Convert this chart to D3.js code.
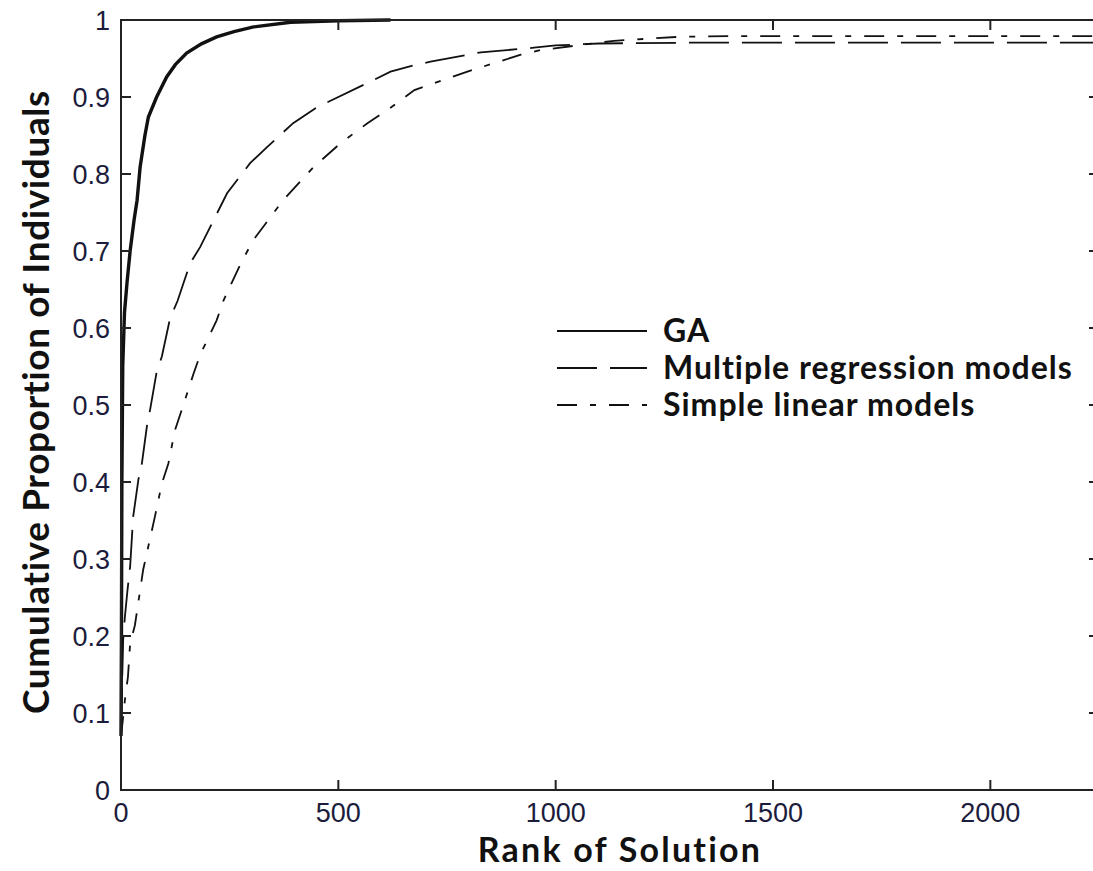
<!DOCTYPE html>
<html lang="en">
<head>
<meta charset="UTF-8">
<title>Cumulative Proportion of Individuals</title>
<script src="https://cdnjs.cloudflare.com/ajax/libs/d3/7.8.5/d3.min.js"></script>
<style>
    body { margin: 0; background: #fff; }
    .tick-label { font-family: "Liberation Sans", Arial, sans-serif; font-size: 27px; fill: #1c1c3c; }
    .axis-title { font-family: Lato, "Open Sans", sans-serif; font-weight: bold; font-size: 37px; fill: #111; letter-spacing: 0.6px; }
    .x-title { font-size: 34px; letter-spacing: 2.2px; }
    .legend-text { font-family: Lato, "Open Sans", sans-serif; font-weight: bold; font-size: 32px; fill: #111; letter-spacing: 1px; }
    .curve { fill: none; stroke: #111; }
</style>
</head>
<body>
<div id="chart"></div>
<script>
// values: rank of solution vs cumulative proportion
const gaRank = [0, 1, 2, 4, 8, 14, 21, 30, 37, 44, 55, 63, 82, 105, 125, 151, 185, 220, 260, 305, 390, 500, 620];
const gaProp = [0.07, 0.2, 0.4, 0.55, 0.62, 0.66, 0.70, 0.74, 0.766, 0.809, 0.85, 0.874, 0.90, 0.926, 0.942, 0.957, 0.969, 0.978, 0.985, 0.991, 0.997, 0.999, 1.0];

const mrRank = [0, 3, 5, 9, 15, 21, 28, 40, 48, 60, 67, 82, 94, 113, 130, 159, 182, 244, 297, 336, 396, 452, 581, 620, 673, 712, 828, 950, 1000, 1100, 1300, 2250];
const mrProp = [0.08, 0.15, 0.195, 0.225, 0.26, 0.29, 0.355, 0.403, 0.424, 0.474, 0.494, 0.543, 0.563, 0.613, 0.635, 0.684, 0.705, 0.775, 0.814, 0.835, 0.866, 0.887, 0.922, 0.933, 0.941, 0.946, 0.958, 0.964, 0.967, 0.9695, 0.9705, 0.9705];

const slRank = [0, 5, 9, 16, 21, 32, 51, 67, 78, 94, 109, 124, 140, 167, 182, 220, 236, 274, 304, 373, 443, 505, 567, 613, 675, 797, 920, 966, 1050, 1134, 1288, 1400, 2250];
const slProp = [0.07, 0.095, 0.117, 0.147, 0.19, 0.214, 0.286, 0.327, 0.355, 0.398, 0.424, 0.467, 0.494, 0.541, 0.565, 0.61, 0.636, 0.682, 0.714, 0.766, 0.809, 0.84, 0.866, 0.883, 0.909, 0.933, 0.955, 0.961, 0.967, 0.973, 0.9783, 0.979, 0.979];

const seriesNames = ["GA", "Multiple regression models", "Simple linear models"];
const xTicks = [0, 500, 1000, 1500, 2000];
const yTicks = [0, 0.1, 0.2, 0.3, 0.4, 0.5, 0.6, 0.7, 0.8, 0.9, 1];

const W = 1093, H = 871;
const margin = { top: 20, right: -6, bottom: 81, left: 121 };

const svg = d3.select("#chart").append("svg")
    .attr("width", W)
    .attr("height", H);

const x = d3.scaleLinear().domain([0, 2250]).range([margin.left, W - margin.right]);
const y = d3.scaleLinear().domain([0, 1]).range([H - margin.bottom, margin.top]);

const series = [
    { name: seriesNames[0], rank: gaRank, prop: gaProp, width: 3.4, dash: null },
    { name: seriesNames[1], rank: mrRank, prop: mrProp, width: 1.8, dash: "40,13" },
    { name: seriesNames[2], rank: slRank, prop: slProp, width: 1.8, dash: "20,13,6,13" }
];

const line = d3.line().x(d => x(d[0])).y(d => y(d[1]));

svg.append("g").selectAll("path")
    .data(series)
    .enter().append("path")
    .attr("class", "curve")
    .attr("stroke-width", d => d.width)
    .attr("stroke-dasharray", d => d.dash)
    .attr("d", d => line(d3.zip(d.rank, d.prop)));

// frame with inward ticks on all four sides
const tickLen = 10;
const axisColor = "#222";
const x0 = x.range()[0], x1 = x.range()[1], y0 = y.range()[0], y1 = y.range()[1];

svg.append("rect")
    .attr("x", x0).attr("y", y1)
    .attr("width", x1 - x0).attr("height", y0 - y1)
    .attr("fill", "none").attr("stroke", axisColor).attr("stroke-width", 2);

const ticks = svg.append("g").attr("stroke", axisColor).attr("stroke-width", 2);
xTicks.forEach(t => {
    ticks.append("line").attr("x1", x(t)).attr("x2", x(t)).attr("y1", y0).attr("y2", y0 - tickLen);
    ticks.append("line").attr("x1", x(t)).attr("x2", x(t)).attr("y1", y1).attr("y2", y1 + tickLen);
});
yTicks.forEach(t => {
    ticks.append("line").attr("x1", x0).attr("x2", x0 + tickLen).attr("y1", y(t)).attr("y2", y(t));
    ticks.append("line").attr("x1", x1).attr("x2", x1 - tickLen).attr("y1", y(t)).attr("y2", y(t));
});

svg.append("g").selectAll("text")
    .data(xTicks)
    .enter().append("text")
    .attr("class", "tick-label")
    .attr("x", d => x(d))
    .attr("y", y0 + 32)
    .attr("text-anchor", "middle")
    .text(d => d);

svg.append("g").selectAll("text")
    .data(yTicks)
    .enter().append("text")
    .attr("class", "tick-label")
    .attr("x", x0 - 11)
    .attr("y", d => y(d))
    .attr("dy", "0.36em")
    .attr("text-anchor", "end")
    .text(d => d3.format("~g")(d));

svg.append("text")
    .attr("class", "axis-title x-title")
    .attr("x", 620)
    .attr("y", 862)
    .attr("text-anchor", "middle")
    .text("Rank of Solution");

svg.append("text")
    .attr("class", "axis-title")
    .attr("transform", "translate(49,402) rotate(-90)")
    .attr("text-anchor", "middle")
    .text("Cumulative Proportion of Individuals");

// legend
const legend = svg.append("g").attr("transform", "translate(557,331)");
const rowH = 37;
series.forEach((s, i) => {
    const g = legend.append("g").attr("transform", `translate(0,${i * rowH})`);
    g.append("line")
        .attr("x1", 0).attr("x2", 90)
        .attr("stroke", "#111")
        .attr("stroke-width", 1.8)
        .attr("stroke-dasharray", s.name === "GA" ? null : s.dash);
    g.append("text")
        .attr("class", "legend-text")
        .attr("x", 106)
        .attr("dy", "0.35em")
        .text(s.name);
});
</script>
</body>
</html>
